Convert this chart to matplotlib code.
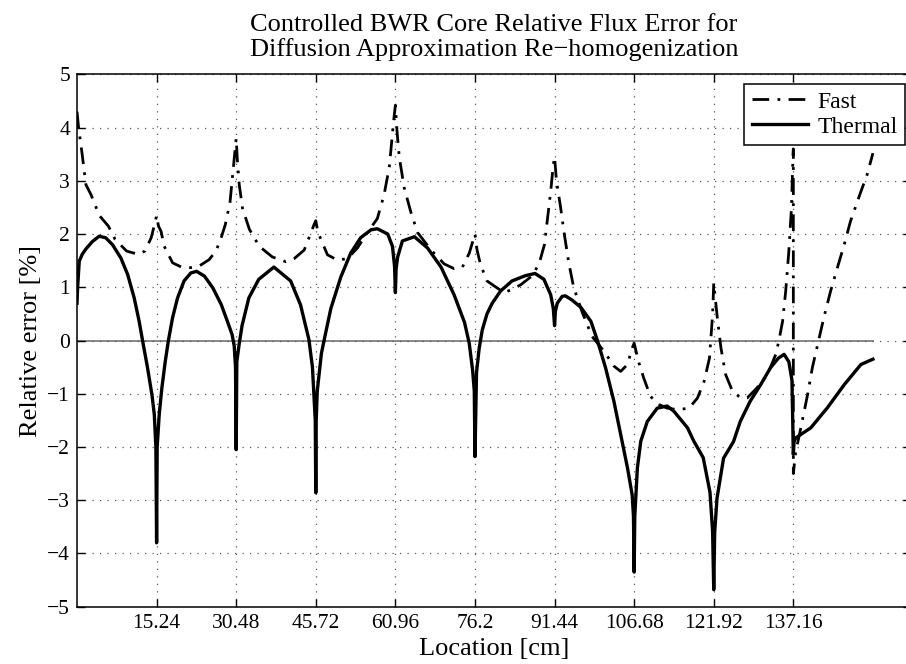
import matplotlib.pyplot as plt

# x ticks are the assembly boundaries (15.24 cm pitch)
xticks = [15.24, 30.48, 45.72, 60.96, 76.2, 91.44, 106.68, 121.92, 137.16]
xticklabels = ['15.24', '30.48', '45.72', '60.96', '76.2', '91.44', '106.68', '121.92', '137.16']

fast_x = [0, 0.3, 0.96, 1.7, 2.68, 4.27, 6.0, 7.3, 9.5, 11.7, 13.0, 14.2, 15.0, 15.24,
          15.6, 16.1, 16.7, 18.3, 20.2, 21.8, 23.4, 25.3, 26.6, 27.6, 28.4, 29.3, 29.9, 30.48,
          30.7, 31.06, 31.7, 33.0, 34.9, 37.4, 40.0, 41.6, 43.5, 44.8, 45.4, 45.72,
          46.1, 46.7, 47.96, 49.9, 51.8, 53.7, 55.6, 57.5, 58.8, 59.8, 60.6, 60.96,
          61.3, 61.7, 62.65, 63.9, 65.2, 67.8, 70.3, 72.2, 73.8, 75.1, 75.9, 76.2,
          76.6, 77.25, 78.5, 80.4, 81.8, 83.5, 85.0, 87.2, 88.5, 89.5, 90.7, 91.2, 91.44,
          91.8, 92.6, 93.3, 94.2, 95.1, 96.7, 98.6, 100.9, 102.8, 104.1, 105.4, 106.3, 106.68,
          107.5, 108.5, 109.8, 111.4, 113.0, 115.0, 117.2, 118.8, 120.1, 121.1, 121.7, 121.92,
          122.6, 123.3, 124.2, 125.5, 127.1, 128.3, 130.2, 132.2, 133.8, 134.4, 135.1, 135.7, 136.3, 136.8, 137.1, 137.16,
          137.16, 137.6, 138.6, 139.9, 140.8, 141.8, 143.0, 144.3, 145.6, 146.9, 148.1, 150.1, 151.3, 152.4]
fast_y = [4.3, 4.0, 3.52, 2.93, 2.74, 2.35, 2.15, 1.90, 1.68, 1.62, 1.68, 1.93, 2.24, 2.35,
          2.15, 2.05, 1.77, 1.46, 1.37, 1.37, 1.40, 1.52, 1.68, 1.93, 2.18, 2.6, 3.2, 3.8,
          3.4, 2.93, 2.48, 2.09, 1.77, 1.57, 1.48, 1.54, 1.70, 2.03, 2.18, 2.25,
          2.05, 1.9, 1.61, 1.51, 1.54, 1.74, 2.03, 2.29, 2.74, 3.26, 4.1, 4.42,
          3.9, 3.45, 2.87, 2.42, 2.03, 1.70, 1.44, 1.35, 1.38, 1.64, 1.9, 2.0,
          1.7, 1.43, 1.12, 0.99, 0.9, 0.97, 1.05, 1.22, 1.45, 1.80, 2.8, 3.3, 3.45,
          3.0, 2.5, 2.0, 1.44, 1.0, 0.54, 0.08, -0.2, -0.48, -0.58, -0.45, -0.14, -0.05,
          -0.39, -0.70, -1.05, -1.2, -1.27, -1.3, -1.27, -1.08, -0.76, -0.33, 0.49, 1.08,
          0.43, -0.14, -0.64, -0.95, -1.08, -1.08, -0.89, -0.64, -0.26, 0.0, 0.36, 0.93, 1.68, 2.49, 3.49, 3.6,
          -2.5, -2.1, -1.64, -1.01, -0.51, -0.08, 0.43, 0.93, 1.37, 1.80, 2.24, 2.8, 3.12, 3.52]

thermal_x = [0, 0.11, 0.43, 1.0, 1.7, 2.95, 4.25, 5.5, 6.8, 8.4, 9.7, 10.95, 11.9, 12.55, 13.5, 14.35, 14.8, 15.1, 15.24,
             15.35, 15.74, 16.25, 16.9, 17.5, 18.3, 19.25, 20.5, 21.8, 22.9, 24.4, 26.0, 27.6, 28.8, 29.7, 30.1, 30.35, 30.48,
             30.6, 31.0, 31.6, 32.9, 34.8, 37.7, 40.9, 42.8, 44.4, 45.08, 45.4, 45.62, 45.72,
             45.8, 46.0, 46.8, 47.3, 48.6, 50.5, 52.4, 54.3, 56.3, 57.5, 59.5, 60.4, 60.8, 60.96,
             61.1, 61.4, 62.3, 64.6, 67.1, 69.7, 72.2, 74.2, 75.1, 75.75, 76.07, 76.2,
             76.5, 77.0, 77.6, 78.5, 79.5, 81.1, 83.3, 85.9, 87.7, 89.4, 90.7, 91.2, 91.44,
             91.6, 91.95, 92.9, 93.5, 94.8, 96.5, 98.4, 99.65, 101.2, 102.8, 104.1, 105.4, 106.3, 106.55, 106.68,
             106.8, 107.3, 107.95, 109.2, 111.1, 113.0, 114.3, 116.9, 118.1, 119.9, 121.2, 121.7, 121.92,
             122.1, 122.55, 123.8, 125.7, 127.0, 128.9, 130.9, 132.8, 134.3, 135.4, 136.3, 136.9, 137.16,
             137.3, 137.6, 140.5, 143.7, 146.9, 150.1, 152.4]
thermal_y = [0.7, 0.99, 1.49, 1.62, 1.72, 1.86, 1.96, 1.93, 1.80, 1.55, 1.24, 0.80, 0.36, 0.0, -0.51, -1.02, -1.39, -2.0, -3.8,
             -2.0, -1.39, -0.89, -0.39, 0.0, 0.43, 0.80, 1.12, 1.27, 1.30, 1.21, 0.99, 0.68, 0.36, 0.11, -0.1, -0.5, -2.05,
             -0.4, -0.1, 0.28, 0.8, 1.15, 1.38, 1.12, 0.67, 0.02, -0.5, -1.08, -1.5, -2.86,
             -1.5, -0.95, -0.24, 0.0, 0.6, 1.19, 1.64, 1.93, 2.08, 2.1, 2.0, 1.77, 1.4, 0.9,
             1.35, 1.57, 1.87, 1.95, 1.74, 1.38, 0.86, 0.34, -0.05, -0.56, -0.95, -2.18,
             -0.6, -0.15, 0.2, 0.5, 0.7, 0.93, 1.12, 1.22, 1.26, 1.15, 0.86, 0.6, 0.28,
             0.55, 0.7, 0.83, 0.84, 0.76, 0.62, 0.36, 0.0, -0.51, -1.14, -1.77, -2.39, -2.9, -3.3, -4.35,
             -3.3, -2.39, -1.89, -1.52, -1.27, -1.23, -1.33, -1.64, -1.89, -2.2, -2.85, -3.58, -4.68,
             -3.6, -2.96, -2.21, -1.9, -1.52, -1.14, -0.83, -0.51, -0.33, -0.26, -0.4, -0.75, -2.14,
             -1.9, -1.83, -1.64, -1.26, -0.83, -0.45, -0.35]

plt.rcParams['font.family'] = 'serif'
plt.rcParams['font.serif'] = ['Liberation Serif', 'DejaVu Serif']

fig = plt.figure(figsize=(9.06, 6.64), dpi=100)
ax = fig.add_axes([0.085, 0.0863, 0.92, 0.8017])

ax.plot([0, 152.4], [0, 0], color='0.45', lw=1.2, zorder=1)
ax.plot(fast_x, fast_y, color='black', lw=2.0, linestyle=(0, (6, 3, 1, 3)), label='Fast', zorder=2)
ax.plot(thermal_x, thermal_y, color='black', lw=2.4, label='Thermal', zorder=3)

ax.set_xlim(0, 159.6)
ax.set_ylim(-5, 5)
ax.set_xticks(xticks)
ax.set_xticklabels(xticklabels)
ax.set_yticks(range(-5, 6))
ax.set_yticklabels([str(v).replace('-', '\u2212') for v in range(-5, 6)])
ax.tick_params(direction='in', length=6, width=1, top=True, right=True, labelsize=15.5, pad=5)
ax.grid(True, color='0.35', linestyle=(0, (1, 5)), linewidth=0.9)
for s in ax.spines.values():
    s.set_linewidth(1.1)

ax.set_title('Controlled BWR Core Relative Flux Error for\nDiffusion Approximation Re\u2212homogenization',
             fontsize=19, linespacing=1.12, pad=13)
ax.set_xlabel('Location [cm]', fontsize=19, labelpad=4)
ax.set_ylabel('Relative error [%]', fontsize=19, labelpad=4)

leg = ax.legend(loc='upper right', bbox_to_anchor=(905 / 906, 1 - 84 / 664),
                bbox_transform=fig.transFigure, borderaxespad=0, fancybox=False,
                framealpha=1, edgecolor='black', fontsize=17, handlelength=2.4,
                handletextpad=0.4, borderpad=0.3, labelspacing=0.15)
leg.get_frame().set_linewidth(1.1)

fig.savefig('out.png', dpi=100)
